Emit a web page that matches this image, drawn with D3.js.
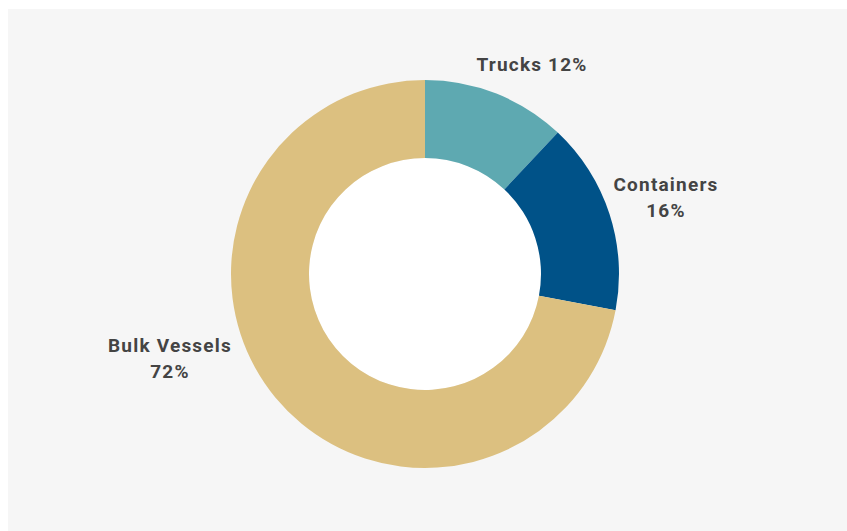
<!DOCTYPE html>
<html><head><meta charset="utf-8">
<script src="https://cdn.jsdelivr.net/npm/d3@7"></script>
<style>html,body{margin:0;padding:0;background:#fff;}svg{display:block;}</style>
</head><body>
<svg id="chart" width="847" height="531"></svg>
<script>
const categories = ["Trucks", "Containers", "Bulk Vessels"];
const values = [12, 16, 72];
const colors = ["#5ea9b1", "#005288", "#dcc080"];
const labelLines = [["Trucks 12%"], ["Containers", "16%"], ["Bulk Vessels", "72%"]];

const svg = d3.select("#chart");
svg.append("rect").attr("x", 8).attr("y", 9).attr("width", 839).attr("height", 522).attr("fill", "#f6f6f6");

const cx = 425, cy = 274, outerR = 194, innerR = 116;
const pie = d3.pie().sort(null).value(d => d.v);
const data = pie(categories.map((c, i) => ({c, v: values[i], i})));
const arc = d3.arc().innerRadius(innerR).outerRadius(outerR);
const g = svg.append("g").attr("transform", `translate(${cx},${cy})`);
g.append("circle").attr("r", innerR).attr("fill", "#fff");
g.selectAll("path").data(data).join("path")
  .attr("d", arc).attr("fill", d => colors[d.data.i]);

const labelPos = [[532, 71], [666, 191], [170, 352]];
labelLines.forEach((lines, i) => {
  const t = svg.append("text")
    .attr("x", labelPos[i][0]).attr("y", labelPos[i][1])
    .attr("text-anchor", "middle")
    .attr("font-family", "Roboto, 'DejaVu Sans', sans-serif")
    .attr("font-weight", "bold").attr("font-size", 19)
    .attr("letter-spacing", "1.2px").attr("fill", "#444");
  lines.forEach((l, j) => t.append("tspan").attr("x", labelPos[i][0]).attr("dy", j ? 26 : 0).text(l));
});
</script>
</body></html>
